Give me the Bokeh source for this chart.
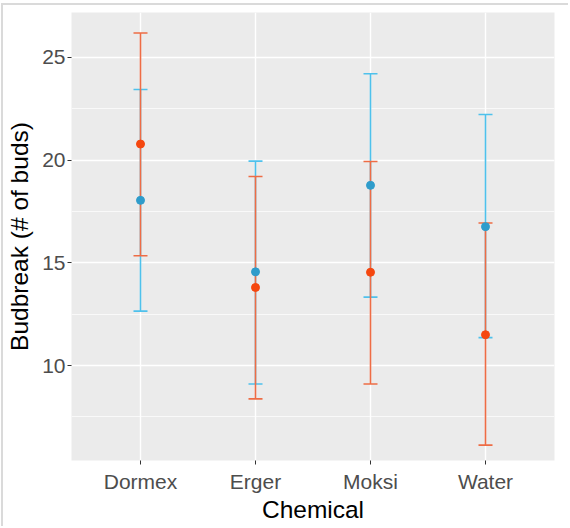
from bokeh.plotting import figure
from bokeh.models import FixedTicker, ColumnDataSource
from bokeh.embed import file_html
from bokeh.resources import INLINE

chemicals = ["Dormex", "Erger", "Moksi", "Water"]

# series 1 (orange-red)
orange_mean = [20.78, 13.8, 14.54, 11.5]
orange_upper = [26.18, 19.2, 19.93, 16.94]
orange_lower = [15.34, 8.38, 9.1, 6.13]

# series 2 (sky blue)
blue_mean = [18.04, 14.56, 18.77, 16.76]
blue_upper = [23.43, 19.95, 24.2, 22.22]
blue_lower = [12.65, 9.1, 13.33, 11.36]

y_ticks = [10, 15, 20, 25]

xpos = [i + 1 for i in range(len(chemicals))]

p = figure(width=567, height=523, output_backend="svg", toolbar_location=None,
           x_range=(0.4, 4.6), y_range=(5.38, 27.18),
           min_border_left=62, min_border_right=16, min_border_top=7, min_border_bottom=68)
p.margin = (3, 0, 0, 1)
p.styles = {"border-top": "2px solid #DADADA", "border-left": "2px solid #DADADA"}

p.background_fill_color = "#EBEBEB"
p.border_fill_color = "white"
p.outline_line_color = None

p.xaxis.ticker = FixedTicker(ticks=xpos)
p.xaxis.major_label_overrides = {x: c for x, c in zip(xpos, chemicals)}
p.yaxis.ticker = FixedTicker(ticks=y_ticks, minor_ticks=[7.5, 12.5, 17.5, 22.5, 27.5])

for ax in (p.xaxis[0], p.yaxis[0]):
    ax.axis_line_color = None
    ax.major_tick_line_color = "#333333"
    ax.major_tick_out = 4
    ax.major_tick_in = 0
    ax.minor_tick_line_color = None
    ax.major_label_text_font = "Liberation Sans"
    ax.major_label_text_font_size = "21px"
    ax.major_label_text_color = "#4D4D4D"
    ax.axis_label_text_font = "Liberation Sans"
    ax.axis_label_text_font_size = "24.5px"
    ax.axis_label_text_font_style = "normal"
    ax.axis_label_text_color = "black"

p.xaxis.axis_label = "Chemical"
p.yaxis.axis_label = "Budbreak (# of buds)"
p.xaxis.major_label_standoff = 5
p.xaxis.axis_label_standoff = 0
p.yaxis.major_label_standoff = 2
p.yaxis.axis_label_standoff = 6

p.xgrid.grid_line_color = "white"
p.xgrid.grid_line_width = 1.4
p.ygrid.grid_line_color = "white"
p.ygrid.grid_line_width = 1.4
p.ygrid.minor_grid_line_color = "white"
p.ygrid.minor_grid_line_width = 0.7

blue_line = "#4EC1EC"
blue_pt = "#2E9CCB"
orange_line = "#EE6C45"
orange_pt = "#F5470F"

sb = ColumnDataSource(dict(x=xpos, m=blue_mean, u=blue_upper, l=blue_lower))
so = ColumnDataSource(dict(x=xpos, m=orange_mean, u=orange_upper, l=orange_lower))

for src, lc in ((sb, blue_line), (so, orange_line)):
    p.segment(x0="x", y0="l", x1="x", y1="u", source=src, line_color=lc, line_width=1.6)
    p.scatter(x="x", y="u", source=src, marker="dash", size=14, line_color=lc, line_width=1.6)
    p.scatter(x="x", y="l", source=src, marker="dash", size=14, line_color=lc, line_width=1.6)

p.scatter(x="x", y="m", source=sb, size=8, fill_color=blue_pt, line_color=blue_pt)
p.scatter(x="x", y="m", source=so, size=8, fill_color=orange_pt, line_color=orange_pt)

open("out.html", "w").write(file_html(p, INLINE))
